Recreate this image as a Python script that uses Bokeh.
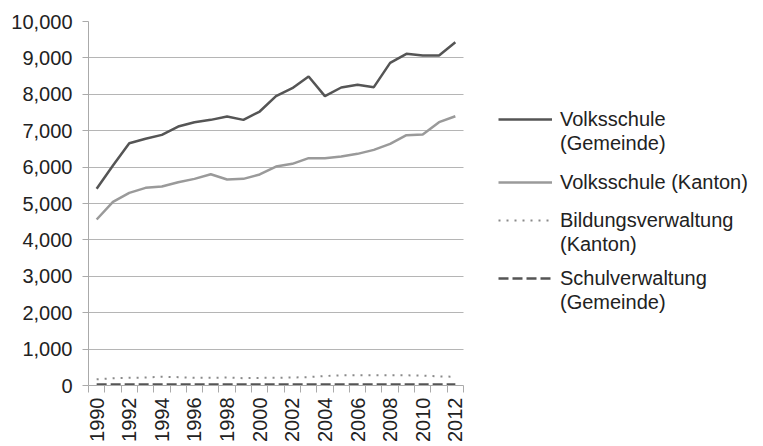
from bokeh.plotting import figure
from bokeh.models import Range1d, FixedTicker, NumeralTickFormatter, Legend, LegendItem, BoxAnnotation
from bokeh.embed import file_html
from bokeh.resources import INLINE
import math

years = list(range(1990, 2013))
volksschule_gemeinde = [5404, 6044, 6657, 6777, 6886, 7115, 7234, 7298, 7390, 7298, 7527, 7949,
                        8168, 8489, 7949, 8187, 8260, 8196, 8864, 9112, 9066, 9066, 9432]
volksschule_kanton = [4560, 5046, 5293, 5430, 5467, 5586, 5677, 5805, 5659, 5677, 5797, 6016,
                      6090, 6245, 6245, 6291, 6364, 6474, 6639, 6877, 6896, 7234, 7398]
bildungsverwaltung_kanton = [170, 200, 210, 220, 240, 230, 210, 210, 220, 200, 210, 210,
                             220, 230, 260, 280, 280, 280, 280, 280, 270, 250, 240]
schulverwaltung_gemeinde = [30, 30, 30, 30, 30, 30, 30, 30, 30, 30, 30, 30,
                            30, 30, 30, 30, 30, 30, 30, 30, 30, 30, 30]
y_ticks = list(range(0, 10001, 1000))
x_label_years = list(range(1990, 2013, 2))

FONT = "Liberation Sans"
TXT = "#222222"

W, H = 763, 446
LEFT, TOP, BOTTOM = 88, 21, 61
PLOT_W = 375  # width of the data area in px
x0, x1 = years[0] - 0.5, years[-1] + 0.5
px_per_year = PLOT_W / (x1 - x0)
x_end = x0 + (W - LEFT) / px_per_year

p = figure(width=W, height=H, output_backend="svg", toolbar_location=None,
           x_range=Range1d(x0, x_end), y_range=Range1d(0, 10000),
           min_border_left=LEFT, min_border_right=0, min_border_top=TOP, min_border_bottom=BOTTOM)
p.outline_line_color = None
p.background_fill_color = "white"
p.border_fill_color = "white"

# axes / grid
p.xgrid.grid_line_color = None
p.ygrid.grid_line_color = "#b5b5b5"
p.ygrid.grid_line_width = 1.2

# white cover so the grid ends at the right edge of the data area
cover = BoxAnnotation(left=x1, fill_color="white", fill_alpha=1, line_color=None, level="underlay")
p.add_layout(cover)

r1 = p.line(years, volksschule_gemeinde, line_color="#555555", line_width=2.5)
r2 = p.line(years, volksschule_kanton, line_color="#9a9a9a", line_width=2.5)
r3 = p.line(years, bildungsverwaltung_kanton, line_color="#8a8a8a", line_width=2, line_dash="2 6")
r4 = p.line(years, schulverwaltung_gemeinde, line_color="#555555", line_width=2.5, line_dash="10 4")
dummy = p.line([], [], line_alpha=0)

ya = p.yaxis[0]
ya.ticker = FixedTicker(ticks=y_ticks)
ya.formatter = NumeralTickFormatter(format="0,0")
ya.axis_line_color = "#aaaaaa"
ya.major_tick_line_color = "#aaaaaa"
ya.major_tick_out = 6
ya.major_tick_in = 0
ya.minor_tick_line_color = None
ya.major_label_standoff = 10
ya.major_label_text_font = FONT
ya.major_label_text_font_size = "20px"
ya.major_label_text_color = TXT

xa = p.xaxis[0]
xa.bounds = (x0, x1)
xa.ticker = FixedTicker(ticks=x_label_years, minor_ticks=[y - 0.5 for y in years] + [x1])
xa.axis_line_color = "#aaaaaa"
xa.major_tick_line_color = None
xa.major_tick_out = 0
xa.major_tick_in = 0
xa.minor_tick_line_color = "#aaaaaa"
xa.minor_tick_out = 7
xa.minor_tick_in = 0
xa.major_label_orientation = math.pi / 2
xa.major_label_standoff = 5
xa.major_label_text_font = FONT
xa.major_label_text_font_size = "20px"
xa.major_label_text_color = TXT


def make_legend(items, loc):
    lg = Legend(items=items, location=loc, orientation="vertical")
    lg.border_line_color = None
    lg.background_fill_alpha = 0
    lg.padding = 0
    lg.margin = 0
    lg.spacing = 0
    lg.glyph_width = 54
    lg.glyph_height = 24
    lg.label_height = 24
    lg.label_standoff = 8
    lg.label_text_font = FONT
    lg.label_text_font_size = "20px"
    lg.label_text_color = TXT
    p.add_layout(lg, "center")


make_legend([LegendItem(label="Volksschule", renderers=[r1]),
             LegendItem(label="(Gemeinde)", renderers=[dummy])], (410, 230))
make_legend([LegendItem(label="Volksschule (Kanton)", renderers=[r2])], (410, 191))
make_legend([LegendItem(label="Bildungsverwaltung", renderers=[r3]),
             LegendItem(label="(Kanton)", renderers=[dummy])], (410, 129))
make_legend([LegendItem(label="Schulverwaltung", renderers=[r4]),
             LegendItem(label="(Gemeinde)", renderers=[dummy])], (410, 71))

open("out.html", "w").write(file_html(p, INLINE))
